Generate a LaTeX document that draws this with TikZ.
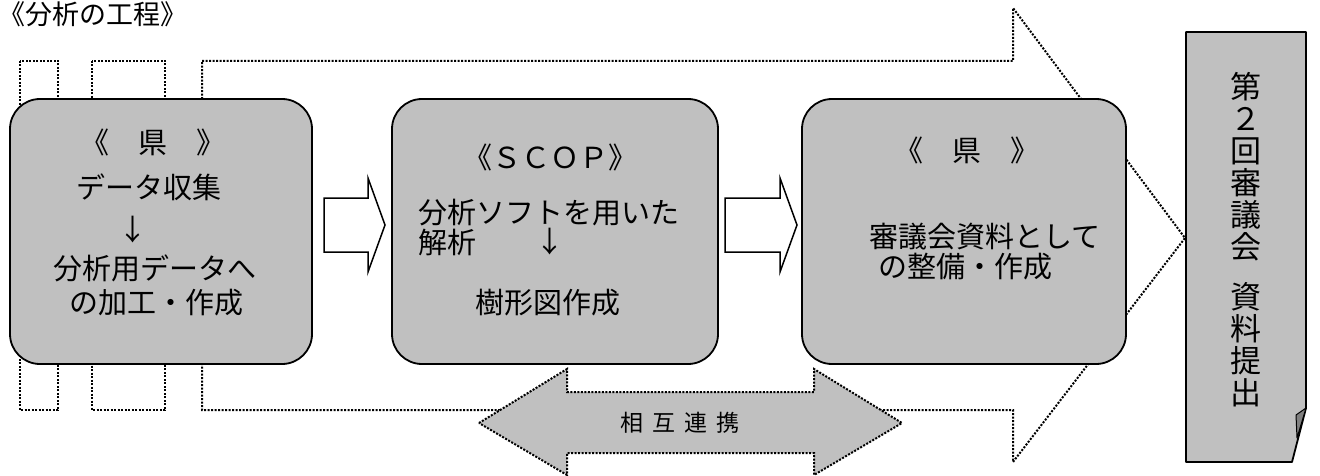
\documentclass[tikz,border=0pt]{standalone}
\usepackage{fontspec}
\setmainfont{Noto Sans CJK JP}
\definecolor{boxgray}{HTML}{C0C0C0}
\definecolor{foldgray}{HTML}{808080}
\begin{document}
\begin{tikzpicture}[x=1pt,y=-1pt,
  procbox/.style={draw=black, line width=1.8pt, fill=boxgray, rounded corners=30pt, inner sep=0pt, outer sep=0pt},
  dots/.style={line width=2pt, dash pattern=on 2pt off 1.5pt},
  txt/.style={font=\fontsize{29}{32}\selectfont, inner sep=0pt},
  hollow/.style={draw=black, line width=1.5pt, fill=white, line join=miter}]
\useasboundingbox (0,0) rectangle (1320,476);
% title
\node[anchor=west, font=\fontsize{27}{29}\selectfont, inner sep=0pt] (title) at (-2,14) {《分析の工程》};
% big dotted arrow with stripes
\draw[dots] (20,61) rectangle (58,410);
\draw[dots] (92,61) rectangle (165,410);
\draw[dots] (202,61) -- (1013,61) -- (1013,8) -- (1185,238) -- (1013,462) -- (1013,410) -- (202,410) -- cycle;
% process boxes
\node[procbox, minimum width=302pt, minimum height=265pt] (b1) at (161,231.5) {};
\node[procbox, minimum width=326pt, minimum height=265pt] (b2) at (555,231.5) {};
\node[procbox, minimum width=324pt, minimum height=265pt] (b3) at (964,231.5) {};
% hollow arrows
\draw[hollow] (324,198) -- (368,198) -- (368,178) -- (385,225) -- (368,272) -- (368,252) -- (324,252) -- cycle;
\draw[hollow] (725,198) -- (780,198) -- (780,178) -- (797,225) -- (780,272) -- (780,252) -- (725,252) -- cycle;
% box 1 text
\node[txt] (b1t1) at (153,142) {《　県　》};
\node[txt] (b1t2) at (149,187) {データ収集};
\node[txt] (b1t3) at (133,230) {↓};
\node[txt] (b1t4) at (155,268) {分析用データへ};
\node[txt] (b1t5) at (156,303) {の加工・作成};
% box 2 text
\node[txt] (b2t1) at (550,157) {《ＳＣＯＰ》};
\node[txt, anchor=west] (b2t2) at (418,213) {分析ソフトを用いた};
\node[txt, anchor=west] (b2t3) at (418,242) {解析};
\node[txt] (b2t4) at (550,242) {↓};
\node[txt] (b2t5) at (548,303) {樹形図作成};
% box 3 text
\node[txt] (b3t1) at (967,150) {《　県　》};
\node[txt, anchor=west] (b3t2) at (869,237) {審議会資料として};
\node[txt, anchor=west] (b3t3) at (878,267) {の整備・作成};
% double arrow
\draw[dots, fill=boxgray] (479,423) -- (567,369) -- (567,392) -- (814,392) -- (814,369) -- (902,423) -- (814,475) -- (814,453) -- (567,453) -- (567,475) -- cycle;
\node[font=\fontsize{23}{26}\selectfont, inner sep=0pt] (mutual) at (680,423) {相\hspace{9pt}互\hspace{9pt}連\hspace{9pt}携};
% vertical document box
\draw[line width=1.8pt, fill=boxgray, line join=round] (1186,32) -- (1306,32) -- (1306,408) -- (1292,462) -- (1186,462) -- cycle;
\draw[line width=1pt, fill=foldgray, line join=round] (1306,408) -- (1296,415) -- (1297,438) -- cycle;
\node[font=\fontsize{31}{32}\selectfont, align=center, inner sep=0pt] (vt) at (1246,240) {第\\２\\回\\審\\議\\会\\[18pt]資\\料\\提\\出};
\end{tikzpicture}
\end{document}
